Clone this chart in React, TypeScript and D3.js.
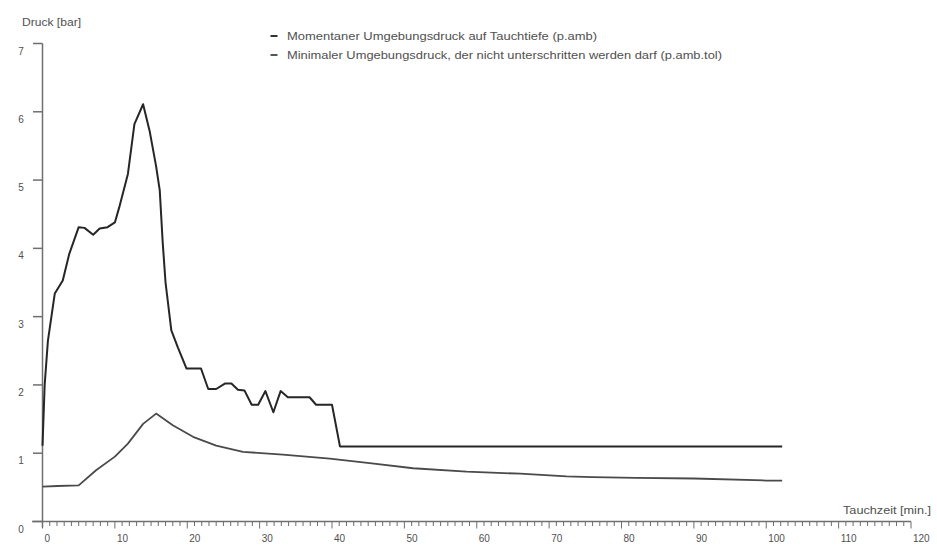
import React from "react";
import * as d3 from "d3";

const ambTime = [0, 0.3, 0.75, 1.7, 2.8, 3.7, 5, 5.8, 7, 7.9, 9, 10, 10.6, 11.8, 12.7, 13.9, 14.8, 15.7, 16.2, 16.6, 17, 17.8, 18.7, 19.9, 21.9, 22.9, 24, 25.2, 26.1, 27, 27.9, 28.9, 29.8, 30.8, 31.9, 32.9, 33.9, 36.9, 37.8, 40, 41.1, 102.2];
const ambValue = [1.11, 2.0, 2.65, 3.34, 3.53, 3.92, 4.31, 4.3, 4.2, 4.29, 4.31, 4.38, 4.6, 5.09, 5.82, 6.11, 5.72, 5.2, 4.85, 4.1, 3.5, 2.8, 2.55, 2.24, 2.24, 1.94, 1.94, 2.02, 2.02, 1.93, 1.92, 1.71, 1.71, 1.91, 1.6, 1.91, 1.82, 1.82, 1.71, 1.71, 1.1, 1.1];

const tolTime = [0, 2.1, 5, 7.4, 10, 11.8, 13.9, 15.7, 18.0, 20.8, 24, 27.7, 33.2, 39.7, 45.5, 51.2, 58.6, 66, 72.4, 76, 82, 90, 100, 102.2];
const tolValue = [0.51, 0.52, 0.53, 0.75, 0.95, 1.14, 1.43, 1.58, 1.41, 1.24, 1.11, 1.02, 0.98, 0.92, 0.85, 0.78, 0.73, 0.70, 0.66, 0.65, 0.64, 0.63, 0.60, 0.60];

const yTicks = [0, 1, 2, 3, 4, 5, 6, 7];
const xMajorTicks = [0, 10, 20, 30, 40, 50, 60, 70, 80, 90, 100, 110, 120];
const xMinorTicks = d3.range(0, 121, 1);

const legendLabels = [
  "Momentaner Umgebungsdruck auf Tauchtiefe (p.amb)",
  "Minimaler Umgebungsdruck, der nicht unterschritten werden darf (p.amb.tol)",
];
const yTitle = "Druck [bar]";
const xTitle = "Tauchzeit [min.]";

export default function App() {
  const x = d3.scaleLinear().domain([0, 120]).range([42.5, 911]);
  const y = d3.scaleLinear().domain([0, 7]).range([521.5, 43.5]);
  const line = d3
    .line<[number, number]>()
    .x((d) => x(d[0]))
    .y((d) => y(d[1]));
  const ambPts = ambTime.map((t, i) => [t, ambValue[i]] as [number, number]);
  const tolPts = tolTime.map((t, i) => [t, tolValue[i]] as [number, number]);
  const axisColor = "#6f6f6f";
  const textColor = "#505050";
  const font = "'Liberation Sans', Arial, sans-serif";

  return (
    <svg
      width={937}
      height={552}
      style={{ position: "absolute", left: 0, top: 0, background: "#fff" }}
      fontFamily={font}
      fontSize={10}
    >
      <rect x={0} y={0} width={937} height={552} fill="#fff" />
      <text x={22} y={26} fill={textColor} textLength={59} lengthAdjust="spacingAndGlyphs">
        {yTitle}
      </text>
      <text x={843} y={514} fill={textColor} textLength={88} lengthAdjust="spacingAndGlyphs">
        {xTitle}
      </text>
      <line x1={x(0)} x2={x(0)} y1={y(7)} y2={y(0) + 6} stroke={axisColor} strokeWidth={1.5} />
      {yTicks.map((t) => (
        <g key={"y" + t}>
          <line x1={33} x2={x(0)} y1={y(t)} y2={y(t)} stroke={axisColor} strokeWidth={1.5} />
          <text x={21} y={y(t) + 11} textAnchor="middle" fill={textColor}>
            {t}
          </text>
        </g>
      ))}
      <line x1={32} x2={x(120)} y1={y(0)} y2={y(0)} stroke={axisColor} strokeWidth={1.5} />
      {xMinorTicks.map((t) => (
        <line
          key={"m" + t}
          x1={x(t)}
          x2={x(t)}
          y1={y(0)}
          y2={y(0) + (t % 10 === 0 ? 7 : 4.5)}
          stroke={axisColor}
          strokeWidth={1}
        />
      ))}
      {xMajorTicks.map((t) => (
        <text key={"x" + t} x={x(t) + 2} y={542} fill={textColor}>
          {t}
        </text>
      ))}
      <line x1={270.5} x2={277.5} y1={36} y2={36} stroke="#333" strokeWidth={2} />
      <text x={287} y={40} fill={textColor} textLength={310} lengthAdjust="spacingAndGlyphs">
        {legendLabels[0]}
      </text>
      <line x1={270.5} x2={277.5} y1={55} y2={55} stroke="#555" strokeWidth={2} />
      <text x={287} y={59} fill={textColor} textLength={435} lengthAdjust="spacingAndGlyphs">
        {legendLabels[1]}
      </text>
      <path d={line(tolPts) || ""} fill="none" stroke="#4a4a4a" strokeWidth={1.8} strokeLinejoin="round" />
      <path d={line(ambPts) || ""} fill="none" stroke="#262626" strokeWidth={2} strokeLinejoin="round" />
    </svg>
  );
}
